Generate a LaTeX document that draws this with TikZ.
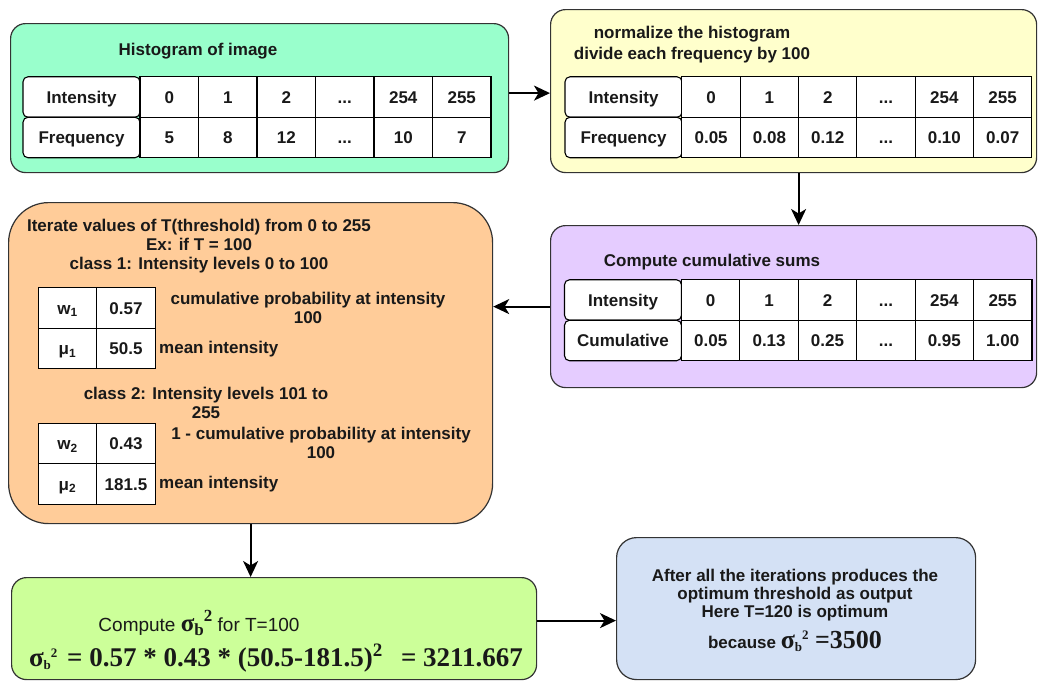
\documentclass[tikz,border=0pt]{standalone}
\usepackage{fontspec}
\setmainfont{Liberation Sans}
\newfontfamily\timesfont{Liberation Serif}
\usetikzlibrary{arrows.meta}

\newcommand\lbl{\fontsize{17}{19}\selectfont\bfseries}
\newcommand\ellip{...}
\newcommand\sigb{σ{\fontsize{13}{13}\selectfont\raisebox{-3pt}{b}\raisebox{9pt}{2}}}

\definecolor{histfill}{HTML}{99FFCC}
\definecolor{normfill}{HTML}{FFFFCC}
\definecolor{cumfill}{HTML}{E5CCFF}
\definecolor{iterfill}{HTML}{FFCC99}
\definecolor{compfill}{HTML}{CCFF99}
\definecolor{outfill}{HTML}{D4E1F5}

\tikzset{
    box/.style={draw=black!80, line width=1.2pt, rounded corners=15pt, anchor=north west, inner sep=0pt},
    hcell/.style={draw=black, fill=white, line width=1.1pt, rounded corners=5pt, minimum width=117pt, minimum height=40.5pt, inner sep=0pt, text height=12.2pt, text depth=0pt, font=\lbl},
    vcell/.style={draw=black, fill=white, line width=1.1pt, minimum width=58.5pt, minimum height=40.5pt, inner sep=0pt, text height=12.2pt, text depth=0pt, font=\lbl},
    scell/.style={vcell},
    txt/.style={font=\lbl, align=center, inner sep=0pt},
    flow/.style={line width=2pt, -{Stealth[length=16pt,width=15pt,inset=4.5pt]}}
}

\begin{document}
\begin{tikzpicture}[x=1pt, y=-1pt, text=black!90]
    \fill[white] (0,0) rectangle (1038,680);
    \useasboundingbox (0,0) rectangle (1038,680);

    % Boxes
    \node[box, fill=histfill, minimum width=498pt, minimum height=149pt] (hist) at (10,23) {};
    \node[box, fill=normfill, minimum width=486pt, minimum height=163pt] (norm) at (550,9) {};
    \node[box, fill=cumfill, minimum width=486pt, minimum height=162pt] (cum) at (550,225) {};
    \node[box, fill=iterfill, rounded corners=40pt, minimum width=484pt, minimum height=321pt] (iter) at (8,202) {};
    \node[box, fill=compfill, minimum width=525pt, minimum height=102pt] (comp) at (11,577) {};
    \node[box, fill=outfill, rounded corners=20pt, minimum width=359pt, minimum height=142pt] (out) at (616,537) {};

    % Histogram of image
    \node[txt] (histT) at (198,51) {Histogram of image};
    \node[hcell] (hI) at (81.5,97) {Intensity};
    \node[hcell] (hF) at (81.5,137.5) {Frequency};
    \foreach \a/\b [count=\i] in {0/5,1/8,2/12,\ellip/\ellip,254/10,255/7}
    {
        \node[vcell] (ha\i) at ({140+58.5*(\i-0.5)},97) {\a};
        \node[vcell] (hb\i) at ({140+58.5*(\i-0.5)},137.5) {\b};
    }

    % Normalized histogram
    \node[txt, font=\fontsize{17}{21}\selectfont\bfseries] (normT) at (692,45) {normalize the histogram\\divide each frequency by 100};
    \node[hcell] (nI) at (623.5,97) {Intensity};
    \node[hcell] (nF) at (623.5,137.5) {Frequency};
    \foreach \a/\b [count=\i] in {0/0.05,1/0.08,2/0.12,\ellip/\ellip,254/0.10,255/0.07}
    {
        \node[vcell] (na\i) at ({682+58.3*(\i-0.5)},97) {\a};
        \node[vcell] (nb\i) at ({682+58.3*(\i-0.5)},137.5) {\b};
    }

    % Cumulative sums
    \node[txt] (cumT) at (712,262) {Compute cumulative sums};
    \node[hcell] (cI) at (623,300) {Intensity};
    \node[hcell] (cC) at (623,340.5) {Cumulative};
    \foreach \a/\b [count=\i] in {0/0.05,1/0.13,2/0.25,\ellip/\ellip,254/0.95,255/1.00}
    {
        \node[vcell] (ca\i) at ({681.5+58.4*(\i-0.5)},300) {\a};
        \node[vcell] (cb\i) at ({681.5+58.4*(\i-0.5)},340.5) {\b};
    }

    % Iterate over thresholds
    \node[txt] (iterT) at (199,246) {Iterate values of T(threshold) from 0 to 255\\Ex: if T = 100\\class 1: Intensity levels 0 to 100};
    \foreach \c/\y/\w/\m in {1/308/0.57/50.5,2/443.5/0.43/181.5}
    {
        \node[scell] (w\c) at (67.5,\y) {w\textsubscript{\c}};
        \node[scell] (wv\c) at (126,\y) {\w};
        \node[scell] (m\c) at (67.5,\y+40.5) {μ\textsubscript{\c}};
        \node[scell] (mv\c) at (126,\y+40.5) {\m};
        \node[txt, anchor=west] (mT\c) at (159,\y+41) {mean intensity};
    }
    \node[txt] (w1T) at (308,308) {cumulative probability at intensity\\100};
    \node[txt] (c2T) at (206,403) {class 2: Intensity levels 101 to\\255};
    \node[txt] (w2T) at (321,443) {1 - cumulative probability at intensity\\100};

    % Between class variance
    \node[txt, font=\fontsize{19}{21}\selectfont] (compT) at (199,623) {Compute {\timesfont\bfseries\fontsize{25}{25}\selectfont σ{\fontsize{17}{17}\selectfont\raisebox{-4pt}{b}\raisebox{10pt}{2}}} for T=100};
    \node[txt, font=\timesfont\bfseries\fontsize{27}{29}\selectfont] (compF) at (276,658) {\sigb{}\hspace{3pt} = 0.57 * 0.43 * (50.5-181.5)\raisebox{10pt}{\fontsize{19}{19}\selectfont 2}\hspace{12pt} = 3211.667};

    % Output
    \node[txt, font=\fontsize{17}{18}\selectfont\bfseries] (outT) at (795,610) {After all the iterations produces the\\optimum threshold as output\\Here T=120 is optimum\\[9pt]because {\timesfont\fontsize{26}{26}\selectfont\sigb{} =3500}};

    % Flow
    \draw[flow] ([yshift=5pt]hist.east) -- ([yshift=5pt]hist.east -| norm.west);
    \draw[flow] ([xshift=5pt]norm.south) -- ([xshift=5pt]cum.north);
    \draw[flow] (cum.west) -- (cum.west -| iter.east);
    \draw[flow] (iter.south) -- (iter.south |- comp.north);
    \draw[flow] ([yshift=8pt]comp.east) -- ([yshift=8pt]comp.east -| out.west);
\end{tikzpicture}
\end{document}
